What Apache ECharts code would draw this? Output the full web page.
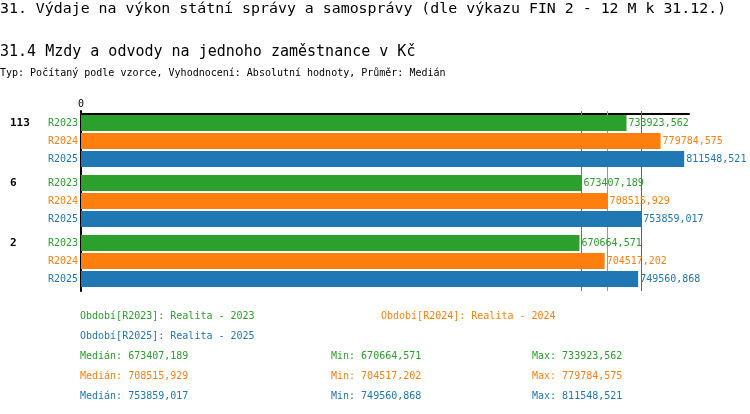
<!DOCTYPE html>
<html>
<head>
<meta charset="utf-8">
<script src="https://cdn.jsdelivr.net/npm/echarts@6/dist/echarts.min.js"></script>
<style>
  html, body { margin: 0; padding: 0; background: #fff; }
  #chart { width: 750px; height: 414px; }
</style>
</head>
<body>
<div id="chart"></div>
<script>
// data
var categories = ['113', '6', '2'];
var periods = ['R2023', 'R2024', 'R2025'];
var periodNames = ['Realita - 2023', 'Realita - 2024', 'Realita - 2025'];
var r2023 = [733923.562, 673407.189, 670664.571];
var r2024 = [779784.575, 708515.929, 704517.202];
var r2025 = [811548.521, 753859.017, 749560.868];
var colors = ['#2ca02c', '#ff7f0e', '#1f77b4'];

var values = [r2023, r2024, r2025];
var mono = '"DejaVu Sans Mono", "Liberation Mono", monospace';

function fmt(v) {
    return v.toFixed(3).replace('.', ',');
}
function median(arr) {
    var s = arr.slice().sort(function (a, b) { return a - b; });
    var m = Math.floor(s.length / 2);
    return s.length % 2 ? s[m] : (s[m - 1] + s[m]) / 2;
}

var chart = echarts.init(document.getElementById('chart'));

var series = [];
periods.forEach(function (p, i) {
    // nulova "stitek" rada, jen kvuli nazvu obdobi vlevo od osy
    series.push({
        name: p + '_lbl',
        type: 'bar',
        stack: p,
        barWidth: 16,
        barGap: '12.5%',
        z: 3,
        data: values[i].map(function () { return 0; }),
        itemStyle: { color: colors[i] },
        label: {
            show: true,
            position: 'left',
            distance: 3,
            formatter: p,
            color: colors[i],
            fontFamily: mono,
            fontSize: 10
        },
        silent: true
    });
    series.push({
        name: p,
        type: 'bar',
        stack: p,
        barWidth: 16,
        barGap: '12.5%',
        z: 3,
        data: values[i],
        itemStyle: { color: colors[i] },
        label: {
            show: true,
            position: 'right',
            distance: 2,
            formatter: function (d) { return fmt(d.value); },
            color: colors[i],
            fontFamily: mono,
            fontSize: 10
        },
        markLine: {
            silent: true,
            z: 1,
            symbol: 'none',
            label: { show: false },
            lineStyle: { color: colors[i], width: 1, type: 'solid' },
            data: [{ xAxis: median(values[i]) }]
        }
    });
});

// texty nad a pod grafem
var graphic = [
    { type: 'text', x: 0, y: 9, style: { text: '31. Výdaje na výkon státní správy a samosprávy (dle výkazu FIN 2 - 12 M k 31.12.)', font: '14.9px ' + mono, fill: '#000', verticalAlign: 'middle' } },
    { type: 'text', x: 0, y: 52, style: { text: '31.4 Mzdy a odvody na jednoho zaměstnance v Kč', font: '15px ' + mono, fill: '#000', verticalAlign: 'middle' } },
    { type: 'text', x: 0, y: 73, style: { text: 'Typ: Počítaný podle vzorce, Vyhodnocení: Absolutní hodnoty, Průměr: Medián', font: '10px ' + mono, fill: '#000', verticalAlign: 'middle' } }
];
var legendPos = [[80, 316], [381, 316], [80, 336]];
periods.forEach(function (p, i) {
    graphic.push({ type: 'text', x: legendPos[i][0], y: legendPos[i][1], style: { text: 'Období[' + p + ']: ' + periodNames[i], font: '10px ' + mono, fill: colors[i], verticalAlign: 'middle' } });
    var y = 356 + i * 20;
    var mn = Math.min.apply(null, values[i]);
    var mx = Math.max.apply(null, values[i]);
    graphic.push({ type: 'text', x: 80, y: y, style: { text: 'Medián: ' + fmt(median(values[i])), font: '10px ' + mono, fill: colors[i], verticalAlign: 'middle' } });
    graphic.push({ type: 'text', x: 331, y: y, style: { text: 'Min: ' + fmt(mn), font: '10px ' + mono, fill: colors[i], verticalAlign: 'middle' } });
    graphic.push({ type: 'text', x: 532, y: y, style: { text: 'Max: ' + fmt(mx), font: '10px ' + mono, fill: colors[i], verticalAlign: 'middle' } });
});

var option = {
    animation: false,
    grid: { left: 81, top: 111, width: 608, height: 180 },
    xAxis: {
        type: 'value',
        position: 'top',
        offset: -3,
        min: 0,
        max: 818000,
        splitLine: { show: false },
        axisTick: { show: false },
        axisLine: { show: true, lineStyle: { color: '#000', width: 2 } },
        axisLabel: {
            margin: 5,
            fontFamily: mono,
            fontSize: 10,
            color: '#000',
            formatter: function (v) { return v === 0 ? '0' : ''; }
        }
    },
    yAxis: {
        type: 'category',
        inverse: true,
        data: categories,
        axisTick: { show: false },
        axisLine: { show: true, lineStyle: { color: '#000', width: 2 } },
        axisLabel: {
            align: 'left',
            verticalAlign: 'middle',
            margin: 71,
            lineHeight: 18,
            // popisek ke prvnimu sloupci skupiny
            formatter: function (v) { return v + '\n\n'; },
            fontFamily: mono,
            fontSize: 11,
            fontWeight: 'bold',
            color: '#000'
        }
    },
    series: series,
    graphic: graphic
};

chart.setOption(option);
</script>
</body>
</html>
